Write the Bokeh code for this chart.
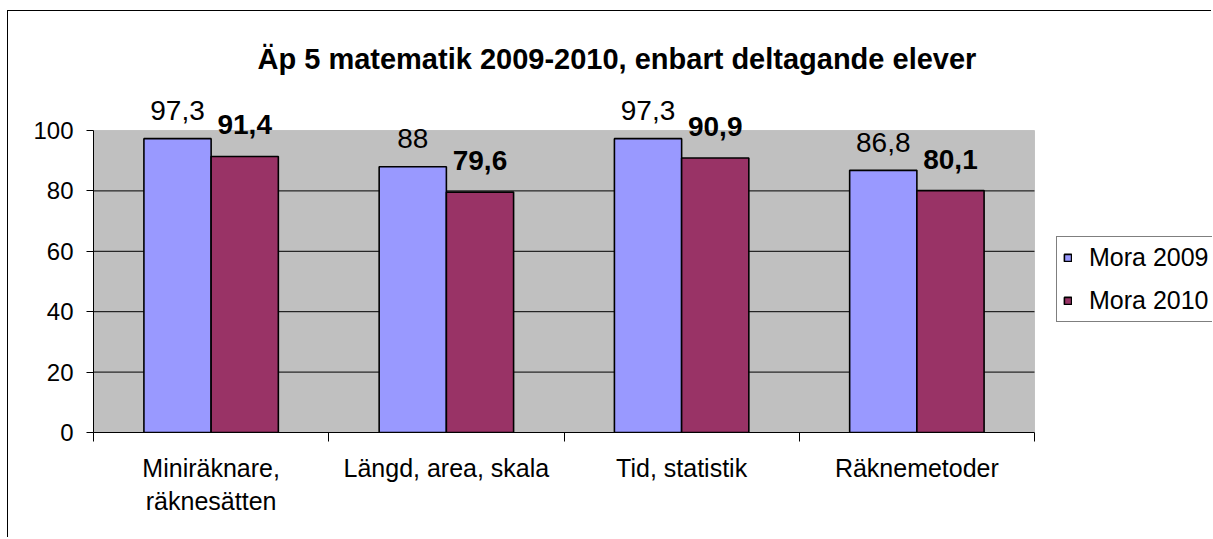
from bokeh.plotting import figure
from bokeh.models import (ColumnDataSource, Range1d, LinearAxis, FixedTicker,
                          LabelSet, Label, Legend, LegendItem, BoxAnnotation)
from bokeh.transform import dodge
from bokeh.core.properties import value
from bokeh.embed import file_html
from bokeh.resources import INLINE

# ---- data ----
categories = ["Miniräknare,\nräknesätten", "Längd, area, skala", "Tid, statistik", "Räknemetoder"]
series_names = ["Mora 2009", "Mora 2010"]
mora_2009 = [97.3, 88.0, 97.3, 86.8]
mora_2010 = [91.4, 79.6, 90.9, 80.1]
y_ticks = [0, 20, 40, 60, 80, 100]
title_text = "Äp 5 matematik 2009-2010, enbart deltagande elever"

FONT = "Liberation Sans"

# ---- layout (pixels) ----
W, H = 1204, 526          # canvas
LEFT, BOTTOM = 85, 105    # space for axes
AREA_W, AREA_H = 941, 302  # grey plot area size
frame_w, frame_h = W - LEFT, H - BOTTOM
n = len(categories)
y_max = y_ticks[-1]
x_end = n * frame_w / AREA_W
y_end = y_max * frame_h / AREA_H


def fmt(v):
    return f"{v:g}".replace(".", ",")


src = ColumnDataSource(dict(
    xc=[i + 0.5 for i in range(n)],
    v09=mora_2009,
    v10=mora_2010,
    l09=[fmt(v) for v in mora_2009],
    l10=[fmt(v) for v in mora_2010],
))

p = figure(
    x_range=Range1d(0, x_end), y_range=Range1d(0, y_end),
    width=W, height=H,
    x_axis_type=None, y_axis_type=None,
    output_backend="svg", toolbar_location=None,
    min_border_left=LEFT, min_border_right=0, min_border_top=0, min_border_bottom=BOTTOM,
    background_fill_color="white", border_fill_color="white",
    outline_line_color=None,
)
p.styles = {"border-left": "1px solid black",
            "box-shadow": "0 -1px 0 0 black",
            "margin-top": "11px", "margin-left": "7px"}

# grey plot area with its border
p.add_layout(BoxAnnotation(left=0, right=n, bottom=0, top=y_max, fill_color="#C0C0C0",
                           fill_alpha=1, line_color="#808080", line_width=1, level="underlay"))
# horizontal grid lines inside the plot area
gy = y_ticks[1:-1]
p.segment(x0=[0] * len(gy), x1=[n] * len(gy), y0=gy, y1=gy, line_color="black", line_width=1)

bw = 1 / 3.5
r1 = p.vbar(x=dodge("xc", -bw / 2), top="v09", width=bw, source=src,
            fill_color="#9999FF", line_color="black", line_width=1.6)
r2 = p.vbar(x=dodge("xc", bw / 2), top="v10", width=bw, source=src,
            fill_color="#993366", line_color="black", line_width=1.6)

p.add_layout(LabelSet(x=dodge("xc", -bw / 2), y="v09", text="l09", source=src,
                      text_align="center", text_baseline="alphabetic", y_offset=18.5,
                      text_font=value(FONT), text_font_size="28px", text_color="black"))
p.add_layout(LabelSet(x=dodge("xc", bw / 2), y="v10", text="l10", source=src,
                      text_align="center", text_baseline="alphabetic", y_offset=22,
                      text_font=value(FONT), text_font_size="28px", text_font_style="bold",
                      text_color="black"))

p.add_layout(Label(x=2.225, y=123.7, text=title_text, text_align="center",
                   text_baseline="alphabetic", text_font=FONT, text_font_size="29px",
                   text_font_style="bold", text_color="black"))

yaxis = LinearAxis(ticker=FixedTicker(ticks=y_ticks), bounds=(0, y_max),
                   major_tick_out=7, major_tick_in=0,
                   minor_tick_out=0, minor_tick_in=0, axis_line_color="black",
                   major_tick_line_color="black", major_label_standoff=13,
                   major_label_text_font=FONT, major_label_text_font_size="24px",
                   major_label_text_color="black")
p.add_layout(yaxis, "left")

xaxis = LinearAxis(
    ticker=FixedTicker(ticks=[i + 0.5 for i in range(n)], minor_ticks=list(range(n + 1))),
    bounds=(0, n),
    major_label_overrides={i + 0.5: c for i, c in enumerate(categories)},
    major_tick_out=0, major_tick_in=0, minor_tick_out=9, minor_tick_in=0,
    minor_tick_line_color="black", axis_line_color="black",
    major_label_standoff=12, major_label_text_font=FONT, major_label_text_font_size="25px",
    major_label_text_color="black")
p.add_layout(xaxis, "below")

legend = Legend(items=[LegendItem(label=series_names[0], renderers=[r1]),
                       LegendItem(label=series_names[1], renderers=[r2])],
                location=(963, 110), orientation="vertical",
                label_text_font=FONT, label_text_font_size="25px", label_text_color="black",
                glyph_width=9, glyph_height=9, label_standoff=17, padding=6, spacing=14,
                label_height=20, border_line_color="black", border_line_width=1,
                background_fill_color="white", background_fill_alpha=1, margin=0)
p.add_layout(legend, "center")

open("out.html", "w").write(file_html(p, INLINE))
